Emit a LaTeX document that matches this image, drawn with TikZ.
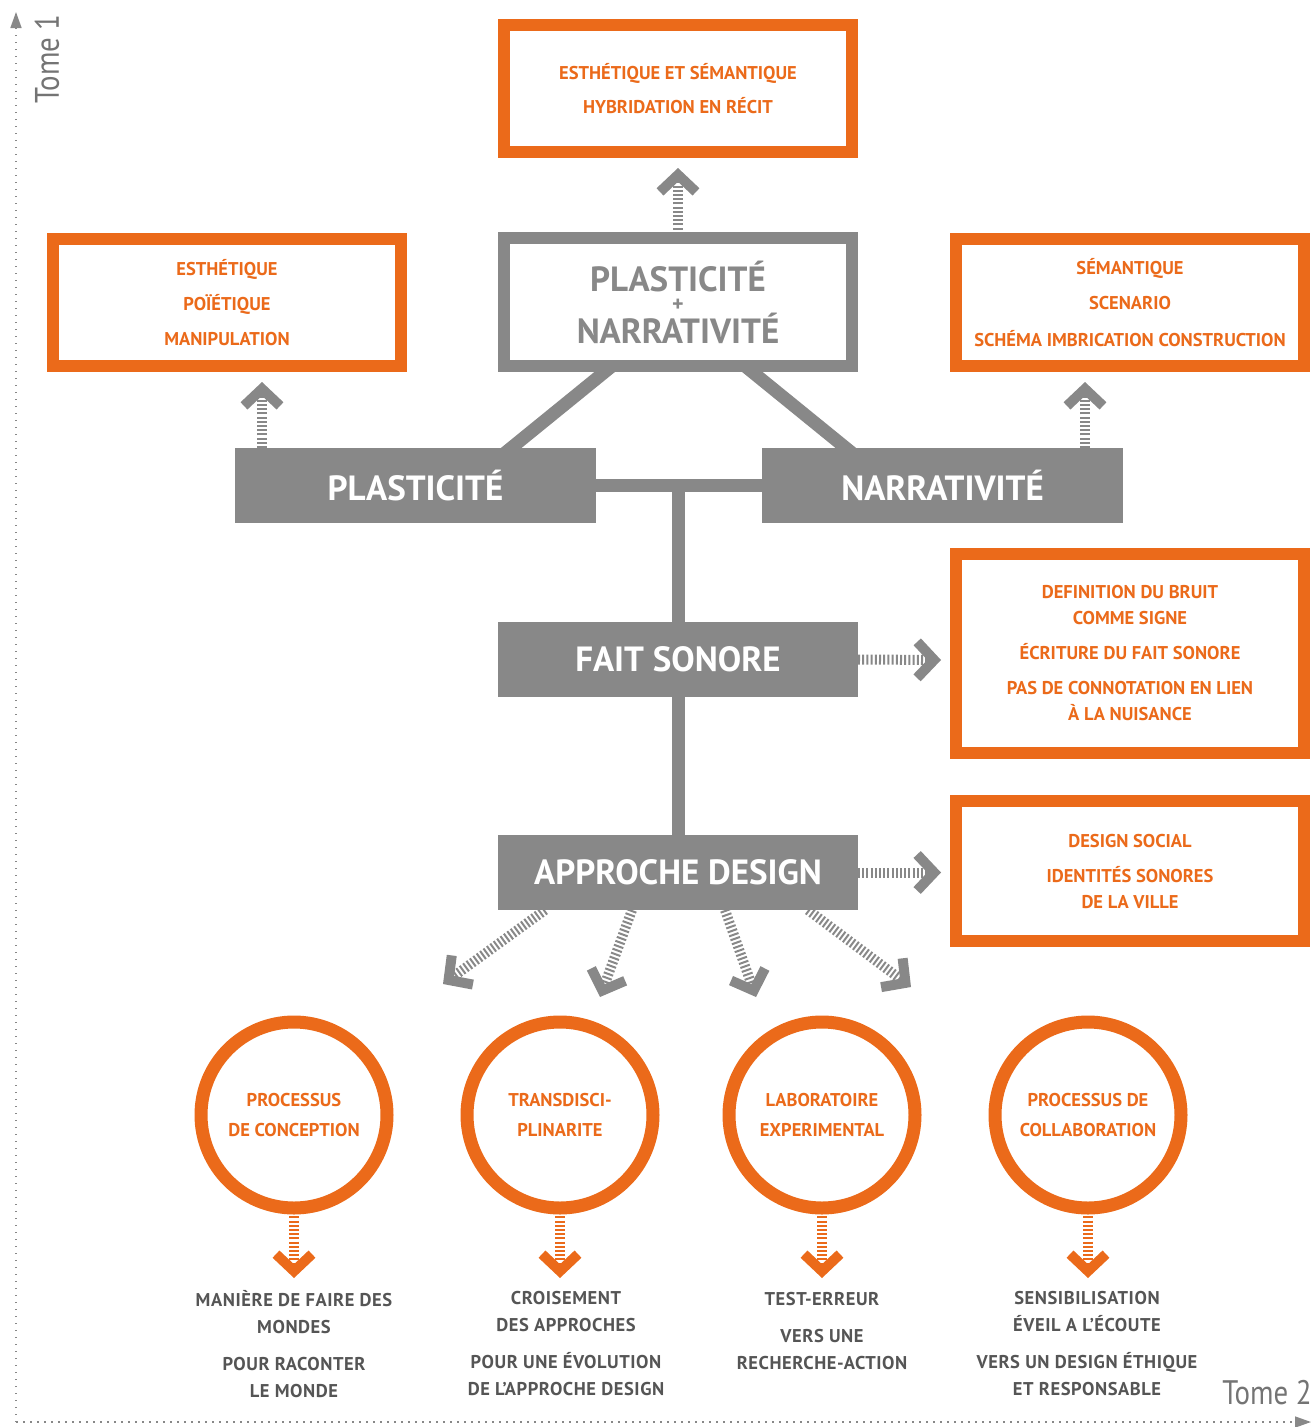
\documentclass[tikz,border=0pt]{standalone}
\usepackage{fontspec}
\setmainfont{PT Sans}
\newfontfamily\tomefont{PT Sans}[FakeStretch=0.85]
\usepackage{xcolor}
\usetikzlibrary{arrows.meta,positioning,calc,backgrounds}
\definecolor{orng}{RGB}{235,106,26}
\definecolor{gbox}{RGB}{136,136,136}
\definecolor{gtext}{RGB}{85,85,85}

\begin{document}
\begin{tikzpicture}[
  x=1pt, y=-1pt,
  obox/.style={draw=orng, line width=12pt, fill=white, minimum width=348pt,
               inner sep=0pt, outer sep=0pt, align=center, text=orng,
               font=\bfseries\fontsize{18.5}{26}\selectfont},
  gframe/.style={draw=gbox, line width=12pt, fill=white, minimum width=348pt,
               minimum height=128pt, inner sep=0pt, outer sep=0pt, align=center, text=gbox,
               font=\bfseries\fontsize{35}{34}\selectfont},
  gbar/.style={fill=gbox, minimum width=361pt, minimum height=75pt, inner sep=0pt,
               outer sep=0pt, text=white, font=\bfseries\fontsize{35}{40}\selectfont},
  ring/.style={circle, draw=orng, line width=13pt, fill=white, minimum size=186pt,
               inner sep=0pt, outer sep=0pt, align=center, text=orng,
               font=\bfseries\fontsize{18.5}{26}\selectfont},
  note/.style={align=center, text=gtext, inner sep=0pt,
               font=\bfseries\fontsize{18.5}{27}\selectfont\addfontfeature{LetterSpace=3}},
  link/.style={draw=gbox, line width=13pt},
  hatch/.style={line width=10pt, dash pattern=on 2pt off 2.2pt,
                -{Straight Barb[length=17pt, width=36pt]}},
  axis/.style={draw=gbox, line width=1.5pt, dash pattern=on 1.5pt off 5.5pt,
               -{Triangle[length=16pt, width=11pt]}},
  tome/.style={text=gbox!85!black, inner sep=0pt, font=\tomefont\fontsize{34}{34}\selectfont},
]
\useasboundingbox (0,0) rectangle (1312,1427);

% axes
\coordinate (o) at (16,1422);
\coordinate (t1) at (16,12);
\coordinate (t2) at (1311,1422);
\draw[axis] (o) -- (t1);
\draw[axis] (o) -- (t2);
\node[tome, rotate=90] (tome1) at (47,59) {Tome 1};
\node[tome] (tome2) at (1267,1393) {Tome 2};

% top level
\node[obox, minimum height=127pt] (hyb) at (678,88.5)
  {ESTHÉTIQUE ET SÉMANTIQUE\\[8pt]HYBRIDATION EN RÉCIT};
\node[gframe] (pn) at (678,302)
  {PLASTICITÉ\\[-14pt]{\fontsize{22}{26}\selectfont\smash{+}}\\[-2pt]NARRATIVITÉ};
\node[obox, minimum height=127pt] (esth) at (227,302.5)
  {ESTHÉTIQUE\\[9pt]POÏÉTIQUE\\[9pt]MANIPULATION};
\node[obox, minimum height=127pt] (sem) at (1130,302.5)
  {SÉMANTIQUE\\[9pt]SCENARIO\\[11pt]SCHÉMA IMBRICATION CONSTRUCTION};

% grey bars
\node[gbar] (pl) at (415.5,485.5) {PLASTICITÉ};
\node[gbar] (nr) at (942.5,485.5) {NARRATIVITÉ};
\node[gbar, minimum width=360pt] (fs) at (678,659.5) {FAIT SONORE};
\node[gbar, minimum width=360pt] (ad) at (678,872.5) {APPROCHE DESIGN};

\node[obox, minimum height=199pt] (bruit) at (1130,653.5)
  {DEFINITION DU BRUIT\\COMME SIGNE\\[9pt]ÉCRITURE DU FAIT SONORE\\[9pt]PAS DE CONNOTATION EN LIEN\\À LA NUISANCE};
\node[obox, minimum height=140pt] (soc) at (1130,871)
  {DESIGN SOCIAL\\[9pt]IDENTITÉS SONORES\\DE LA VILLE};

\begin{scope}[on background layer]
  \draw[link] ([xshift=-66pt]pn.south) -- ([xshift=89.5pt,yshift=-5pt]pl.north);
  \draw[link] ([xshift=67pt]pn.south) -- ([xshift=-90.5pt,yshift=-5pt]nr.north);
  \draw[link] (pl.east) -- (nr.west);
  \draw[link] (fs.north |- pl.east) -- (fs.north);
  \draw[link] (fs.south) -- (ad.north);
\end{scope}

% circles
\node[ring] (c1) at (294,1115) {PROCESSUS\\[4pt]DE CONCEPTION};
\node[ring] (c2) at (560,1115) {TRANSDISCI-\\[4pt]PLINARITE};
\node[ring] (c3) at (822,1115) {LABORATOIRE\\[4pt]EXPERIMENTAL};
\node[ring] (c4) at (1088,1115) {PROCESSUS DE\\[4pt]COLLABORATION};

\node[note] (n1) at (294,1344) {MANIÈRE DE FAIRE DES\\MONDES\\[10pt]POUR RACONTER\\LE MONDE};
\node[note] (n2) at (566,1344) {CROISEMENT\\DES APPROCHES\\[10pt]POUR UNE ÉVOLUTION\\DE L’APPROCHE DESIGN};
\node[note] (n3) at (822,1331) {TEST-ERREUR\\[10pt]VERS UNE\\RECHERCHE-ACTION};
\node[note] (n4) at (1087,1344) {SENSIBILISATION\\ÉVEIL A L’ÉCOUTE\\[10pt]VERS UN DESIGN ÉTHIQUE\\ET RESPONSABLE};

% hatched arrows
\coordinate (u0) at (678,168);
\coordinate (u1) at (262,382);
\coordinate (u2) at (1085,382);
\coordinate (r1) at (941,660);
\coordinate (r2) at (941,872.5);
\coordinate (s1) at (443,984);
\coordinate (s2) at (600,997);
\coordinate (s3) at (756,997);
\coordinate (s4) at (911,987);
\draw[hatch, gbox] (pn.north) -- (u0);
\draw[hatch, gbox] ([xshift=-153.5pt]pl.north) -- (u1);
\draw[hatch, gbox] ([xshift=142.5pt]nr.north) -- (u2);
\draw[hatch, gbox] (fs.east) -- (r1);
\draw[hatch, gbox] (ad.east) -- (r2);
\draw[hatch, gbox] ([xshift=-133pt]ad.south) -- (s1);
\draw[hatch, gbox] ([xshift=-46pt]ad.south) -- (s2);
\draw[hatch, gbox] ([xshift=47pt]ad.south) -- (s3);
\draw[hatch, gbox] ([xshift=130pt]ad.south) -- (s4);
\foreach \c in {c1,c2,c3,c4}
  \draw[hatch, orng] (\c.south) -- ++(0,70);
\end{tikzpicture}
\end{document}
